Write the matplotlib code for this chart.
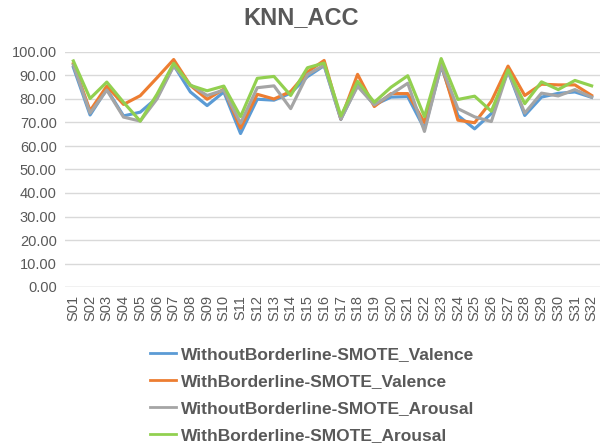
import numpy as np
import matplotlib
matplotlib.use("Agg")
import matplotlib.pyplot as plt

# subjects and accuracy (%) per method
subjects = ["S%02d" % i for i in range(1, 33)]

without_valence = [93.5, 73.2, 84.2, 72.8, 74.4, 80.5, 94.4, 83.0, 77.2, 83.0, 65.3, 79.9,
                   79.5, 82.5, 89.5, 94.2, 71.3, 86.0, 77.5, 80.8, 81.0, 67.3, 94.0, 73.0,
                   67.3, 73.8, 91.8, 73.0, 80.8, 82.4, 83.0, 80.7]
with_valence = [95.0, 75.0, 85.5, 77.7, 81.4, 89.0, 96.8, 85.8, 79.9, 84.2, 67.6, 82.0,
                80.0, 83.2, 91.5, 96.4, 71.5, 90.5, 76.8, 82.3, 82.3, 70.0, 95.0, 71.0,
                69.9, 79.0, 94.0, 81.5, 86.3, 86.0, 86.0, 81.5]
without_arousal = [94.5, 74.0, 83.8, 72.3, 70.6, 80.0, 94.0, 86.0, 81.5, 83.8, 69.7, 84.8,
                   85.6, 75.9, 90.4, 94.4, 71.5, 85.4, 77.5, 82.0, 86.7, 66.2, 94.3, 75.9,
                   72.4, 70.4, 92.0, 74.0, 82.5, 81.3, 84.0, 80.8]
with_arousal = [96.2, 80.2, 87.2, 78.6, 70.6, 82.0, 95.2, 85.8, 83.5, 85.5, 72.5, 88.8,
                89.6, 81.5, 93.3, 95.3, 72.8, 87.5, 78.6, 85.0, 89.9, 72.5, 97.2, 79.8,
                81.2, 74.8, 92.4, 78.0, 87.3, 84.0, 87.9, 85.6]

series = [
    ("WithoutBorderline-SMOTE_Valence", without_valence, "#5B9BD5"),
    ("WithBorderline-SMOTE_Valence", with_valence, "#ED7D31"),
    ("WithoutBorderline-SMOTE_Arousal", without_arousal, "#A5A5A5"),
    ("WithBorderline-SMOTE_Arousal", with_arousal, "#92D050"),
]

text_col = "#595959"
plt.rcParams['font.family'] = ['Liberation Sans', 'DejaVu Sans']

fig = plt.figure(figsize=(6.03, 4.48), dpi=100)
ax = fig.add_axes([65/603, 1 - 287/448, 535/603, 235/448])

x = np.arange(len(subjects))
for name, vals, col in series:
    ax.plot(x, vals, color=col, lw=2.25, label=name, solid_joinstyle='round')

ax.set_xlim(-0.5, len(subjects) - 0.5)
ax.set_ylim(0, 100)
ax.set_yticks(np.arange(0, 101, 10))
ax.set_yticklabels(["%.2f" % v for v in np.arange(0, 101, 10)], fontsize=10.5, color=text_col)
ax.set_xticks(x)
ax.set_xticklabels(subjects, rotation=90, fontsize=10.5, color=text_col)
ax.tick_params(length=0, pad=6)
ax.yaxis.grid(True, color="#D9D9D9", lw=1)
ax.set_axisbelow(True)
for s in ax.spines.values():
    s.set_visible(False)
ax.axhline(0, color="#D9D9D9", lw=1)

fig.text(0.5, 1 - 18/448, "KNN_ACC", ha='center', va='center', fontsize=17,
         fontweight='bold', color=text_col)

leg = fig.legend(loc='upper left', bbox_to_anchor=(143/603, 1 - 340/448), frameon=False,
                 prop={'size': 12.5, 'weight': 'bold'}, handlelength=1.5, handletextpad=0.3,
                 labelspacing=0.68, borderaxespad=0)
for t in leg.get_texts():
    t.set_color(text_col)
for h in leg.get_lines():
    h.set_linewidth(2)

fig.savefig("out.png", dpi=100)
